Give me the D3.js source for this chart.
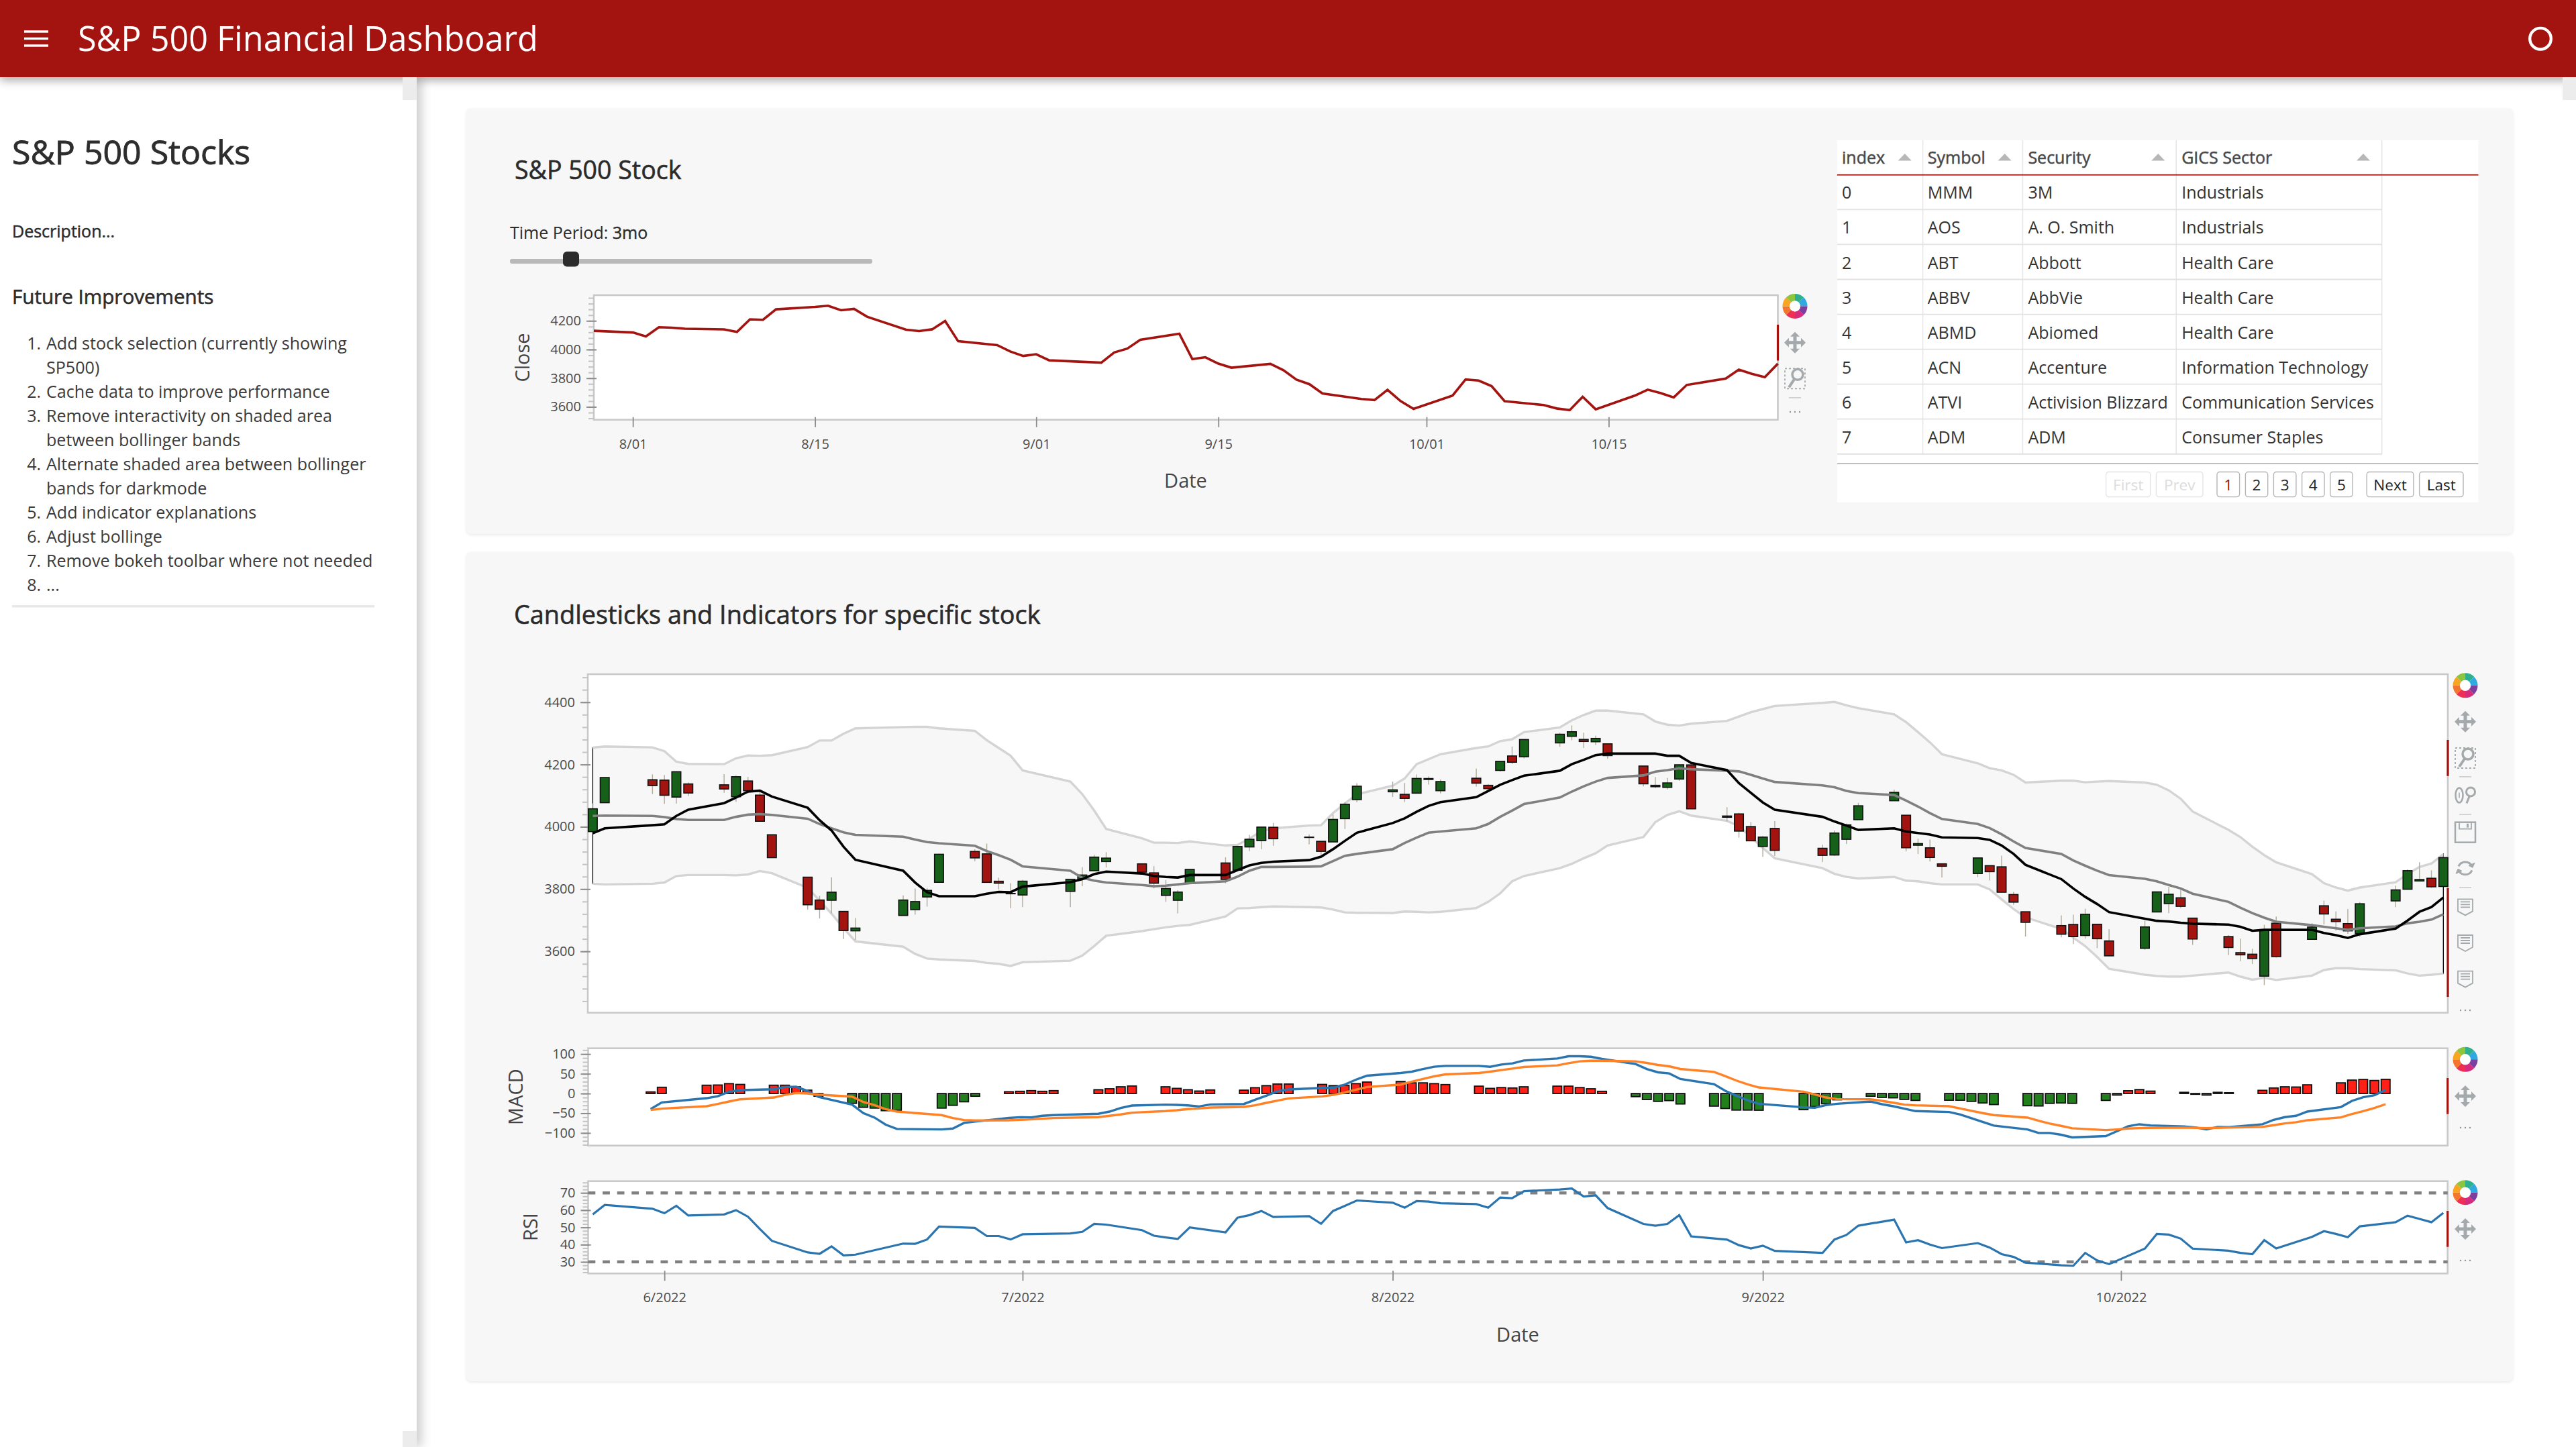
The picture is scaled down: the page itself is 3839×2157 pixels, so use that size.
<!DOCTYPE html>
<html><head><meta charset="utf-8">
<script src="https://cdn.jsdelivr.net/npm/d3@7"></script>
<style>
html,body{margin:0;padding:0;background:#fff;overflow:hidden}
svg{display:block;font-family:"Open Sans",sans-serif}
.soft{filter:blur(0.6px)}
</style></head><body>
<script>
// ---------- data ----------
const tradingDays = [
 "05-26","05-27","05-31",
 "06-01","06-02","06-03","06-06","06-07","06-08","06-09","06-10","06-13","06-14","06-15","06-16","06-17","06-21","06-22","06-23","06-24","06-27","06-28","06-29","06-30",
 "07-01","07-05","07-06","07-07","07-08","07-11","07-12","07-13","07-14","07-15","07-18","07-19","07-20","07-21","07-22","07-25","07-26","07-27","07-28","07-29",
 "08-01","08-02","08-03","08-04","08-05","08-08","08-09","08-10","08-11","08-12","08-15","08-16","08-17","08-18","08-19","08-22","08-23","08-24","08-25","08-26","08-29","08-30","08-31",
 "09-01","09-02","09-06","09-07","09-08","09-09","09-12","09-13","09-14","09-15","09-16","09-19","09-20","09-21","09-22","09-23","09-26","09-27","09-28","09-29","09-30",
 "10-03","10-04","10-05","10-06","10-07","10-10","10-11","10-12","10-13","10-14","10-17","10-18","10-19","10-20","10-21","10-24","10-25","10-26","10-27","10-28"];
const openPrice = [
 3984.6,4077.4,4151.1,
 4149.8,4095.4,4137.6,4134.7,4096.5,4147.1,4101.7,3974.4,3838.2,3764.8,3764.1,3728.2,3665.9,3715.3,3733.9,3774.7,3821.8,3920.8,3913,3825.1,3786,
 3781,3792.6,3832,3858.9,3888.3,3880.9,3852,3779.7,3764,3818,3883.8,3860.7,3935.3,3955.5,3998.4,3965.7,3953.2,3951.4,4026.1,4087.3,
 4112.4,4104.2,4108,4154.9,4115.9,4155.9,4133.1,4181,4227.4,4225,4269.4,4290.5,4280.5,4273.1,4266.3,4195.1,4133.1,4126.6,4153.3,4198.7,4034.6,4041.3,4000.7,
 3936.7,3994.7,3930.9,3909.4,3959.9,4022.9,4083.7,4037.1,3940.7,3932.4,3881,3849.9,3875.2,3871.4,3782.4,3727.1,3682.7,3686.4,3651,3687,3633.5,
 3609.8,3726.5,3753.3,3772,3706.7,3647.5,3595.9,3590.8,3520.4,3690.4,3638.7,3746.3,3703.1,3689.1,3657.1,3762,3799.4,3826,3834.7,3808.3];
const highPrice = [
 4075.1,4158.5,4168.3,
 4166.5,4177.5,4142.7,4168.8,4164.9,4160.1,4119.1,3974.4,3838.2,3778.2,3837.6,3728.2,3707.7,3779.7,3801.8,3802.6,3913.7,3927.7,3945.9,3836.5,3819,
 3829.8,3832.2,3870.9,3910.6,3918.5,3880.9,3873.4,3829.4,3796.4,3863.6,3902.4,3939.8,3974.1,3999.3,4012.4,3975.3,3953.2,4039.6,4079,4140.2,
 4145,4140.5,4167.7,4161.3,4151.6,4186.6,4137.3,4211,4257.9,4280.5,4301.8,4325.3,4302.2,4292.5,4266.3,4195.1,4159.8,4156.6,4200.5,4203,4063,4045,4015.4,
 3970.2,4018.4,3942.6,3987.9,4010.5,4076.8,4119.3,4037.1,3961.9,3959.1,3881,3900.5,3876,3907.1,3790.7,3727.1,3715.7,3717.5,3736.7,3687,3671.4,
 3698.4,3791.9,3806.9,3797.9,3706.7,3652.2,3640.7,3608.3,3685.4,3712,3689.7,3762.8,3728.6,3736,3757.9,3810.7,3862.9,3886.2,3860,3905.4];
const lowPrice = [
 3984.6,4077.4,4104.9,
 4073.9,4074.4,4098.7,4109.2,4080.2,4107.2,4017.2,3900.2,3734.3,3705.7,3722.3,3639.8,3636.9,3715.3,3717.7,3743.5,3821.8,3889.7,3820.1,3799,3738.7,
 3741.7,3742.1,3809.4,3858.9,3869.3,3847.2,3802.4,3759.1,3721.6,3817.2,3818.6,3860.7,3922,3927.6,3938.9,3943.5,3910.7,3951.4,3993,4079.2,
 4096,4079.8,4108,4135.4,4107.3,4129,4112.1,4177.3,4201.4,4219.8,4256.9,4277.8,4253.1,4262,4218.7,4129.9,4124,4120,4147.6,4057.7,4017.4,3965.2,3954.5,
 3903.7,3906.2,3886.8,3906,3944.8,4022.9,4083.7,3921,3912.2,3888.3,3837.1,3838.5,3827.5,3789.5,3749.5,3647.5,3644.8,3623.3,3640.6,3610.4,3584.1,
 3604.9,3726.5,3722.7,3739.2,3620.7,3588.1,3568.5,3559.3,3491.6,3579.7,3638.7,3686.5,3666.5,3656.4,3647.4,3741.7,3799.4,3824.1,3803.8,3808.3];
const closePrice = [
 4057.8,4158.2,4132.2,
 4101.2,4176.8,4108.5,4121.4,4160.7,4115.8,4017.8,3900.9,3749.6,3735.5,3790,3666.8,3674.8,3764.8,3759.9,3795.7,3911.7,3900.1,3821.6,3818.8,3785.4,
 3825.3,3831.4,3845.1,3902.6,3899.4,3854.4,3818.8,3801.8,3790.4,3863.2,3830.9,3936.7,3959.9,3999,3961.6,3966.8,3921.1,4023.6,4072.4,4130.3,
 4118.6,4091.2,4155.2,4151.9,4145.2,4140.1,4122.5,4210.2,4207.3,4280.2,4297.1,4305.2,4274,4283.7,4228.5,4138,4128.7,4140.8,4199.1,4057.7,4030.6,3986.2,3955,
 3966.9,3924.3,3908.2,3979.9,4006.2,4067.4,4110.4,3932.7,3946,3901.4,3873.3,3899.9,3855.9,3789.9,3758,3693.2,3655,3647.3,3719,3640.5,3585.6,
 3678.4,3790.9,3783.3,3744.5,3639.7,3612.4,3588.8,3577,3669.9,3583.1,3678,3720,3695.7,3665.8,3752.8,3797.3,3859.1,3830.6,3807.3,3901.1];
const bollUpper = [
 4254,4258,4255,
 4243,4209,4202,4201,4220,4229,4228,4230,4256,4277,4277,4299,4316,4320,4321,4321,4316,4308,4278,4253,4228,
 4181,4145,4105,4052,3993,3963,3949,3949,3948,3953,3940,3942,3962,3986,3995,4004,4005,4044,4075,4104,
 4132,4155,4201,4217,4233,4253,4258,4275,4281,4304,4319,4342,4359,4373,4373,4361,4338,4328,4325,4331,4340,4354,4368,
 4378,4388,4398,4401,4390,4381,4361,4336,4304,4271,4233,4204,4188,4181,4167,4142,4148,4148,4143,4145,4147,
 4142,4135,4117,4090,4049,3990,3967,3936,3909,3886,3848,3819,3805,3795,3805,3822,3848,3871,3882,3912];
const bollMiddle = [
 4035,4036,4035,
 4031,4025,4022,4022,4032,4039,4041,4038,4026,4009,3995,3982,3974,3968,3959,3951,3947,3939,3922,3909,3894,
 3873,3859,3836,3827,3821,3813,3809,3811,3815,3819,3825,3840,3859,3871,3871,3872,3873,3890,3907,3913,
 3928,3948,3965,3981,3985,3995,4009,4032,4052,4073,4094,4113,4130,4145,4157,4165,4177,4182,4188,4185,4180,4178,4167,
 4155,4144,4133,4127,4115,4108,4102,4084,4065,4044,4025,4009,3996,3976,3953,3932,3913,3892,3875,3859,3845,
 3833,3825,3813,3802,3785,3759,3740,3723,3708,3695,3684,3679,3674,3669,3674,3680,3690,3695,3702,3719];
const bollLower = [
 3817,3815,3817,
 3821,3842,3845,3845,3844,3847,3858,3851,3804,3763,3721,3675,3632,3615,3592,3577,3574,3569,3563,3560,3553,
 3565,3570,3586,3617,3650,3665,3671,3677,3682,3685,3712,3738,3739,3742,3744,3742,3741,3734,3725,3724,
 3723,3728,3727,3725,3727,3739,3759,3786,3825,3842,3867,3881,3899,3915,3940,3967,4015,4038,4050,4036,4019,4002,3967,
 3932,3899,3867,3849,3839,3834,3839,3827,3825,3819,3815,3815,3799,3767,3736,3709,3672,3644,3617,3582,3544,
 3525,3521,3519,3519,3522,3532,3519,3509,3515,3508,3522,3540,3546,3546,3543,3539,3529,3522,3525,3529];
const fastAverage = [
 3979,3995,4005,
 4008,4035,4055,4076,4094,4113,4116,4097,4061,4021,3988,3936,3894,3859,3821,3790,3777,3777,3785,3791,3790,
 3808,3822,3832,3848,3856,3850,3842,3839,3837,3845,3845,3861,3876,3884,3888,3893,3904,3928,3955,3981,
 4012,4027,4048,4067,4079,4095,4115,4135,4150,4164,4180,4201,4215,4230,4235,4235,4235,4228,4228,4205,4182,4140,4109,
 4078,4055,4032,4017,4004,3990,3995,3985,3980,3975,3966,3964,3958,3940,3913,3878,3832,3802,3775,3752,3726,
 3705,3698,3696,3692,3689,3686,3679,3666,3669,3669,3669,3659,3652,3643,3655,3673,3699,3727,3742,3773];
const macdLine = [
 -39.5,-22.6,-11.9,
 -6.8,4.5,8.5,10.7,16.4,17,6.8,-8.5,-28.2,-49.7,-61,-79,-89.8,-91,-88.7,-74.6,-71.2,-62,-60,-60.5,-56.5,
 -54.8,-51.4,-45.8,-36.7,-30.5,-28.2,-28.8,-30,-32.8,-27.7,-26.6,-15.8,-5.6,5.6,10.2,14,14,22.6,35,45.2,
 52,55.4,62,67.8,70,70,67.8,73.4,76.3,83.6,88.7,94.4,94.4,93.2,87.6,74.6,62,53.7,50.8,36.7,23.7,6.8,-5.6,
 -17,-26,-35,-36.2,-29.4,-26,-20.3,-27.1,-32.2,-38.4,-44.6,-46.9,-53.1,-62.7,-71.8,-81.4,-91,-100,-100,-104.5,-111.3,
 -107.9,-95.5,-83,-78,-80.8,-83.6,-85.9,-91,-84.7,-85.3,-78,-66.7,-59.9,-56.5,-45.8,-34.5,-18.6,-9.6,-4.5,9];
const signalLine = [
 -41.8,-38.4,-32.2,
 -26.6,-20.3,-14.7,-10.2,-3.4,1.1,0,-2.8,-7.9,-21.5,-29.4,-39.5,-45.8,-54.8,-62.1,-67.2,-68.4,-67.8,-66.7,-65.5,-63.8,
 -62.1,-59.9,-56.5,-53.1,-48.6,-44.6,-42.4,-39.5,-37.9,-35.6,-33.9,-29.9,-23.7,-18.1,-12.4,-7.3,-3.4,2.3,9.6,16.4,
 22.6,29.9,36.7,43.5,48.6,52,55.4,59.3,63.3,67.2,71.2,76.8,81.4,83,83,81.4,77.4,72.3,68.9,62.1,54.8,44.1,32.8,
 23.2,15.3,4.5,-2.3,-10.2,-14.1,-14.7,-18.6,-23.2,-28.2,-29.9,-32.2,-37.9,-44,-49.7,-54.8,-61,-68.9,-76.3,-81.9,-88.1,
 -92.7,-91,-88.7,-87.6,-87,-86.4,-87,-87.6,-87,-86.4,-84.7,-80.2,-75.7,-72.9,-67.8,-60.5,-52,-44.6,-36.7,-27.1];
const macdHist = [
 4,15.8,21,
 21.5,25,23,21,21,17,8.5,-7,-25,-35,-37,-43.5,-42.5,-37,-30,-21,-7,4.5,5.6,7.3,5.6,
 7.3,9.6,12,17,19,17,13,9.6,6.2,9,8.5,14.7,20,24,24,23,20,21,25,29,
 30.5,27,27,25,22.6,18.6,13,15,14,17,18.6,18.6,15,12,5.6,-8,-15.3,-20,-18,-26.5,-32,-38,-42,
 -42,-42.4,-41,-33,-26,-16,-7,-10,-11,-15,-17.5,-17,-17,-20,-24,-28,-31,-31.6,-25,-24,-25,
 -17.5,-4,7,10,6,3,-2,-4,3,2,8,14,17,16.4,22,27,34,35.6,33,36];
const rsiValues = [
 57.5,63,60.8,
 58.2,62.5,56.9,57.5,60,56.2,49,42.2,35.5,34.7,39,33.8,34.2,40.6,40.5,43,50.5,49.7,45,45,43,
 46,46.5,47.4,52,51.6,48.4,45.2,44.2,43.3,50,47.1,55.6,57.1,59.5,56,56.5,52.1,59.5,62.5,65.6,
 64.3,61.4,65.3,65,64,63.5,61.4,67.3,66.9,71,72,72.5,67.9,68.6,61.2,52,51,52,57.1,44.8,42.9,39.7,37.8,
 39.4,36.4,35.2,43,45.6,51,54.5,41.3,42.6,40,38,40.9,38.3,34.5,32.9,29.6,28,27.7,35.2,30.9,28.7,
 37.7,46.2,45.8,43.5,37.7,36.5,35.2,34.5,42.6,37.8,44.5,47.8,46.2,44.3,50.6,53,56.8,54.9,53,58.4];
const rsiBounds = [70,30];

const stockTickDates = ["08-01","08-15","09-01","09-15","10-01","10-15"];
const stockTickLabels = ["8/01","8/15","9/01","9/15","10/01","10/15"];
const monthTickDates = ["06-01","07-01","08-01","09-01","10-01"];
const monthTickLabels = ["6/2022","7/2022","8/2022","9/2022","10/2022"];
const stockYTicks = [3600,3800,4000,4200];
const mainYTicks = [3600,3800,4000,4200,4400];
const macdYTicks = [-100,-50,0,50,100];
const rsiYTicks = [30,40,50,60,70];

const tableHeaders = ["index","Symbol","Security","GICS Sector"];
const tableIndex = ["0","1","2","3","4","5","6","7"];
const tableSymbols = ["MMM","AOS","ABT","ABBV","ABMD","ACN","ATVI","ADM"];
const tableSecurities = ["3M","A. O. Smith","Abbott","AbbVie","Abiomed","Accenture","Activision Blizzard","ADM"];
const tableSectors = ["Industrials","Industrials","Health Care","Health Care","Health Care","Information Technology","Communication Services","Consumer Staples"];

const improvements = [
 ["1.","Add stock selection (currently showing"],["","SP500)"],
 ["2.","Cache data to improve performance"],
 ["3.","Remove interactivity on shaded area"],["","between bollinger bands"],
 ["4.","Alternate shaded area between bollinger"],["","bands for darkmode"],
 ["5.","Add indicator explanations"],["6.","Adjust bollinge"],
 ["7.","Remove bokeh toolbar where not needed"],["8.","..."]];

// ---------- helpers ----------
const RED="#a31410", TXT="#2b2b2b", AXT="#4a4a4a", BORDER="#c9c9c9", TICK="#8c8c8c", ICON="#a4a9ac";
const parse=s=>d3.utcParse("%Y-%m-%d")("2022-"+s);
const days=tradingDays.map(parse);
const svg=d3.select("body").append("svg").attr("width",3839).attr("height",2157);
const defs=svg.append("defs");
const blur=(id,s)=>defs.append("filter").attr("id",id).attr("x","-20%").attr("y","-20%").attr("width","140%").attr("height","140%").append("feGaussianBlur").attr("stdDeviation",s);
blur("sh8",8); blur("sh3",2.2);
defs.append("filter").attr("id","shH").attr("x","-1%").attr("y","-100%").attr("width","102%").attr("height","400%").append("feGaussianBlur").attr("stdDeviation",7);
function text(g,x,y,s,o={}){
  const t=g.append("text").attr("x",x).attr("y",y).text(s)
   .attr("font-size",o.size||25).attr("fill",o.fill||TXT).attr("font-weight",o.weight||400)
   .attr("text-anchor",o.anchor||"start");
  if(o.stroke)t.attr("stroke",o.fill||TXT).attr("stroke-width",o.stroke);
  if(o.rotate)t.attr("transform",`rotate(${o.rotate} ${x} ${y})`);
  return t;
}
function rect(g,x0,y0,x1,y1,fill,o={}){
  return g.append("rect").attr("x",x0).attr("y",y0).attr("width",x1-x0).attr("height",y1-y0).attr("fill",fill)
    .attr("rx",o.rx||0).attr("stroke",o.stroke||"none").attr("stroke-width",o.sw||0);
}
function plotFrame(g,x0,y0,x1,y1){
  rect(g,x0,y0,x1,y1,"#fff",{stroke:BORDER,sw:2.6});
}
function yAxis(g,scale,x0,majors,minors){
  const m=g.append("g").attr("transform",`translate(${x0},0)`)
    .call(d3.axisLeft(scale).tickValues(minors).tickSize(7).tickFormat(""));
  m.select(".domain").remove();
  m.selectAll(".tick line").attr("stroke","#c4c4c4").attr("stroke-width",2).attr("x2",-8).attr("x1",0);
  const a=g.append("g").attr("transform",`translate(${x0},0)`)
    .call(d3.axisLeft(scale).tickValues(majors).tickSize(11).tickPadding(8).tickFormat(d3.format("d")));
  a.select(".domain").remove();
  a.selectAll(".tick line").attr("stroke",TICK).attr("stroke-width",2).attr("x2",-11).attr("x1",4);
  a.selectAll(".tick text").attr("font-size",20).attr("font-family","'Open Sans',sans-serif").attr("fill",AXT);
}
function xAxis(g,scale,y0,dates,labels){
  const a=g.append("g").attr("transform",`translate(0,${y0})`)
    .call(d3.axisBottom(scale).tickValues(dates.map(parse)).tickSize(11).tickPadding(18)
      .tickFormat((d,i)=>labels[i]));
  a.select(".domain").remove();
  a.selectAll(".tick line").attr("stroke",TICK).attr("stroke-width",1.8).attr("y1",-4).attr("y2",11);
  a.selectAll(".tick text").attr("font-size",20).attr("font-family","'Open Sans',sans-serif").attr("fill",AXT);
}
function logo(g,cx,cy){
  const cols=["#2eaf8f","#2fa9e0","#7c3f9d","#d62a7c","#ee2f53","#f2762e","#f6a623","#8cc63f"];
  const c=g.append("g").attr("transform",`translate(${cx},${cy})`);
  c.selectAll("path").data(d3.pie().value(1).sort(null).padAngle(0)(cols)).join("path")
    .attr("d",d3.arc().innerRadius(8).outerRadius(18.5)).attr("fill",d=>d.data);
  c.append("circle").attr("r",8).attr("fill","#fff");
}
function iconMove(g,cx,cy){
  const c=g.append("g").attr("transform",`translate(${cx},${cy})`).attr("fill",ICON);
  c.append("rect").attr("x",-2.5).attr("y",-12).attr("width",5).attr("height",24);
  c.append("rect").attr("x",-12).attr("y",-2.5).attr("width",24).attr("height",5);
  c.append("path").attr("d","M-7,-9 L0,-16 L7,-9 Z M-7,9 L0,16 L7,9 Z M-9,-7 L-16,0 L-9,7 Z M9,-7 L16,0 L9,7 Z");
}
function iconBoxZoom(g,cx,cy){
  const c=g.append("g").attr("transform",`translate(${cx},${cy})`).attr("fill","none").attr("stroke",ICON);
  c.append("rect").attr("x",-15).attr("y",-15).attr("width",30).attr("height",30).attr("stroke-width",1.8).attr("stroke-dasharray","3 3");
  c.append("circle").attr("cx",4).attr("cy",-6).attr("r",8).attr("stroke-width",3.5);
  c.append("line").attr("x1",-1).attr("y1",1).attr("x2",-9).attr("y2",13).attr("stroke-width",4);
}
function iconWheel(g,cx,cy){
  const c=g.append("g").attr("transform",`translate(${cx},${cy})`).attr("fill","none").attr("stroke",ICON);
  c.append("ellipse").attr("cx",-9).attr("cy",0).attr("rx",5.5).attr("ry",11).attr("stroke-width",2.5);
  c.append("line").attr("x1",-9).attr("y1",-4).attr("x2",-9).attr("y2",4).attr("stroke-width",1.5);
  c.append("circle").attr("cx",8).attr("cy",-5).attr("r",6.5).attr("stroke-width",3);
  c.append("line").attr("x1",6).attr("y1",2).attr("x2",2).attr("y2",12).attr("stroke-width",3);
}
function iconSave(g,cx,cy){
  const c=g.append("g").attr("transform",`translate(${cx},${cy})`).attr("fill","none").attr("stroke",ICON).attr("stroke-width",2.5);
  c.append("rect").attr("x",-15).attr("y",-15).attr("width",30).attr("height",30);
  c.append("path").attr("d","M-9,-15 V-5 H9 V-15").attr("stroke-width",1.8);
  c.append("rect").attr("x",2).attr("y",-13).attr("width",3).attr("height",6).attr("fill",ICON).attr("stroke","none");
}
function iconReset(g,cx,cy){
  const c=g.append("g").attr("transform",`translate(${cx},${cy})`).attr("fill","none").attr("stroke",ICON).attr("stroke-width",3);
  c.append("path").attr("d","M-10,-3 A11,11 0 0 1 10,-3");
  c.append("path").attr("d","M10,3 A11,11 0 0 1 -10,3");
  c.append("path").attr("d","M5,-4 L11,-1 L14,-8 Z M-5,4 L-11,1 L-14,8 Z").attr("fill",ICON).attr("stroke-width",1);
}
function iconHover(g,cx,cy){
  const c=g.append("g").attr("transform",`translate(${cx},${cy})`).attr("fill","none").attr("stroke",ICON).attr("stroke-width",1.8);
  c.append("path").attr("d","M-11,-11 H11 V7 L0,13 L-11,7 Z");
  c.append("path").attr("d","M-7,-7 H7 M-7,-3 H7 M-7,1 H7").attr("stroke-width",1.8);
}
function iconDivider(g,cx,cy){ g.append("rect").attr("x",cx-9).attr("y",cy-0.8).attr("width",18).attr("height",1.6).attr("fill","#c9cdcf"); }
function iconDots(g,cx,cy){ [-7,0,7].forEach(d=>g.append("circle").attr("cx",cx+d).attr("cy",cy).attr("r",1.2).attr("fill","#8f9497")); }
function activeBar(g,x,y0,y1){ rect(g,x-1.6,y0,x+1.6,y1,RED); }

// ---------- page frame ----------
rect(svg,0,0,3839,2157,"#fff");
const card=(y0,y1)=>{
  svg.append("rect").attr("x",695).attr("y",y0+1.5).attr("width",3050).attr("height",y1-y0).attr("rx",7).attr("fill","#000").attr("opacity",.09).attr("filter","url(#sh3)");
  rect(svg,695,y0,3745,y1,"#f7f7f7",{rx:7});
};
card(161.5,796); card(823,2059);

// sidebar
svg.append("rect").attr("x",0).attr("y",115).attr("width",628).attr("height",2042).attr("fill","#000").attr("opacity",.2).attr("filter","url(#sh8)");
rect(svg,0,115,621,2157,"#fff");

// header shadow and corner squares
svg.append("rect").attr("x",0).attr("y",104).attr("width",3839).attr("height",16).attr("fill","#000").attr("opacity",.33).attr("filter","url(#shH)");
rect(svg,600,115,621,149,"#ececec");
rect(svg,600,2133,621,2157,"#ececec");
rect(svg,3819,115,3839,149,"#ececec");

const side=svg.append("g");
text(side,18,245,"S&P 500 Stocks",{size:50,weight:500,fill:"#2d2d2d",stroke:.9});
text(side,18,354,"Description...",{size:25,weight:500,fill:"#2d2d2d",stroke:.5});
text(side,18,453,"Future Improvements",{size:29.6,weight:500,fill:"#2d2d2d",stroke:.6});
improvements.forEach((r,i)=>{
  const y=520.5+36*i;
  if(r[0]) text(side,61,y,r[0],{size:25,anchor:"end",fill:"#3a3a3a"});
  text(side,69,y,r[1],{size:25.1,fill:"#3a3a3a"});
});
rect(side,18,902,558,905.5,"#e8e8e8");

// header
rect(svg,0,0,3839,115,RED);
[47,57.5,68].forEach(y=>rect(svg,36,y-1.7,72,y+1.7,"#fff"));
text(svg,116,76,"S&P 500 Financial Dashboard",{size:50.35,fill:"#fff"});
svg.append("circle").attr("cx",3786).attr("cy",57.7).attr("r",15.8).attr("fill","none").attr("stroke","#fff").attr("stroke-width",4.3);

// ---------- top card ----------
const topCard=svg.append("g");
text(topCard,767,267,"S&P 500 Stock",{size:37.5,weight:500,stroke:.6});
text(topCard,760,356,"Time Period: ",{size:25}).append("tspan").attr("font-weight",500).attr("stroke",TXT).attr("stroke-width",.4).text("3mo");
rect(topCard,760,386,1300,393,"#b9b9b9",{rx:3});
rect(topCard,839,375,863,397.5,"#2c2c2c",{rx:6});

const stockIdx=d3.range(days.length).filter(i=>tradingDays[i]>="07-29");
const xStock=d3.scaleUtc().domain([parse("07-29"),parse("10-28")]).range([885,2649.5]);
const yStock=d3.scaleLinear().domain([3510,4379]).range([625.7,440]);
plotFrame(topCard,885,440,2649.5,625.7);
yAxis(topCard,yStock,885,stockYTicks,d3.range(3520,4379,40));
xAxis(topCard,xStock,625.7,stockTickDates,stockTickLabels);
topCard.append("path").attr("class","soft").attr("fill","none").attr("stroke",RED).attr("stroke-width",3.6).attr("stroke-linejoin","miter")
  .attr("d",d3.line().x(i=>xStock(days[i])).y(i=>yStock(closePrice[i]))(stockIdx));
text(topCard,789,533,"Close",{size:29,anchor:"middle",rotate:-90,fill:"#444"});
text(topCard,1767,727,"Date",{size:29,anchor:"middle",fill:"#444"});
activeBar(topCard,2649.5,484,537.5);
logo(topCard,2675,456.4); iconMove(topCard,2675,510.7); iconBoxZoom(topCard,2675,564.3); iconDivider(topCard,2675,592.9); iconDots(topCard,2675,614);

// ---------- table ----------
const tb=svg.append("g");
rect(tb,2738,209,3693.5,749,"#fff");
const colEdges=[2738,2865.6,3014.5,3243.2,3549.7];
const colText=[2745,2872.8,3022.4,3251.2];
const sortX=[2838.7,2987.6,3216.3,3522];
colEdges.slice(1).forEach(x=>tb.append("line").attr("x1",x).attr("x2",x).attr("y1",209).attr("y2",677.5).attr("stroke","#e4e4e4").attr("stroke-width",1.4));
tableHeaders.forEach((h,i)=>{
  text(tb,colText[i],243.5,h,{size:25,weight:500,fill:"#484848",stroke:.5});
  tb.append("path").attr("d",`M${sortX[i]-10},239.5 L${sortX[i]},229 L${sortX[i]+10},239.5 Z`).attr("fill","#b7b7b7");
});
rect(tb,2738,259.8,3693.5,261.6,RED);
tableIndex.forEach((_,r)=>{
  const yb=296.4+52.05*r, yl=312.4+52.05*r;
  [tableIndex[r],tableSymbols[r],tableSecurities[r],tableSectors[r]].forEach((s,c)=>text(tb,colText[c],yb,s,{size:25,fill:"#333"}));
  tb.append("line").attr("x1",2738).attr("x2",3549.7).attr("y1",yl).attr("y2",yl).attr("stroke","#e2e2e2").attr("stroke-width",1.8);
});
rect(tb,2738,690.5,3693.5,692,"#a6a6a6");
const pager=[["First",3138.6,3204.7,0],["Prev",3213.4,3283,0],["1",3304,3337.6,2],["2",3346.4,3379.7,1],["3",3388.4,3421.9,1],["4",3430.6,3464,1],["5",3472.7,3506,1],["Next",3527.2,3596.9,1],["Last",3605.6,3671,1]];
pager.forEach(p=>{
  rect(tb,p[1],703.5,p[2],740.6,"#fff",{rx:4,stroke:p[3]?"#b5b5b5":"#e4e4e4",sw:1.4});
  text(tb,(p[1]+p[2])/2,730.5,p[0],{size:22.5,anchor:"middle",fill:p[3]==0?"#dcdcdc":p[3]==2?RED:"#222"});
});

// ---------- candle card ----------
const cc=svg.append("g");
text(cc,766,929.5,"Candlesticks and Indicators for specific stock",{size:37.85,weight:500,stroke:.6});
const xMain=d3.scaleUtc().domain([d3.utcHour.offset(days[0],-9.4),d3.utcHour.offset(days[days.length-1],9)]).range([876,3648]);
const yMain=d3.scaleLinear().domain([3403,4490]).range([1509.6,1005]);
plotFrame(cc,876,1005,3648,1509.6);
yAxis(cc,yMain,876,mainYTicks,d3.range(3440,4490,40));
const marks=cc.append("g").attr("class","soft");
marks.append("path").attr("fill","#f7f7f7").attr("stroke","#000").attr("stroke-width",1.3)
  .attr("d",d3.area().x((_,i)=>xMain(days[i])).y0((_,i)=>yMain(bollLower[i])).y1(d=>yMain(d))(bollUpper));
const lineMain=d3.line().x((_,i)=>xMain(days[i])).y(d=>yMain(d));
[bollUpper,bollLower].forEach(s=>marks.append("path").attr("fill","none").attr("stroke","#d4d4d4").attr("stroke-width",3.4).attr("d",lineMain(s)));
marks.selectAll(".wick").data(days).join("line").attr("class","wick")
  .attr("x1",d=>xMain(d)).attr("x2",d=>xMain(d))
  .attr("y1",(_,i)=>yMain(highPrice[i])).attr("y2",(_,i)=>yMain(lowPrice[i]))
  .attr("stroke","#b3ab9b").attr("stroke-width",1.4);
marks.selectAll(".body").data(days).join("rect").attr("class","body")
  .attr("x",d=>xMain(d)-6.7).attr("width",13.4)
  .attr("y",(_,i)=>yMain(Math.max(openPrice[i],closePrice[i])))
  .attr("height",(_,i)=>Math.max(0.5,Math.abs(yMain(openPrice[i])-yMain(closePrice[i]))))
  .attr("fill",(_,i)=>closePrice[i]>=openPrice[i]?"#16601a":RED)
  .attr("stroke","#111").attr("stroke-width",1.6);
marks.append("path").attr("fill","none").attr("stroke","#808080").attr("stroke-width",3.6).attr("d",lineMain(bollMiddle));
marks.append("path").attr("fill","none").attr("stroke","#000").attr("stroke-width",3.6).attr("d",lineMain(fastAverage));
activeBar(cc,3648,1103,1156.8); activeBar(cc,3648,1324,1486);
logo(cc,3674,1021.8); iconMove(cc,3674,1075.7); iconBoxZoom(cc,3674,1130); iconDivider(cc,3674,1157.9);
iconWheel(cc,3674,1185.4); iconDivider(cc,3674,1214); iconSave(cc,3674,1240.7); iconReset(cc,3674,1294.3); iconDivider(cc,3674,1323);
iconHover(cc,3674,1351.4); iconHover(cc,3674,1405); iconHover(cc,3674,1458.6); iconDots(cc,3674,1506);

// ---------- MACD ----------
const xMacd=d3.scaleUtc().domain([d3.utcHour.offset(days[0],-134),d3.utcHour.offset(days[days.length-1],133)]).range([876.5,3647.7]);
const yMacd=d3.scaleLinear().domain([-132,114.5]).range([1707.7,1562.7]);
plotFrame(cc,876.5,1562.7,3647.7,1707.7);
yAxis(cc,yMacd,876.5,macdYTicks,d3.range(-130,115,10));
const mm=cc.append("g").attr("class","soft");
mm.selectAll(".hist").data(macdHist).join("rect").attr("class","hist")
  .attr("x",(_,i)=>xMacd(days[i])-6.6).attr("width",13.2)
  .attr("y",d=>yMacd(Math.max(d,0))).attr("height",d=>Math.abs(yMacd(d)-yMacd(0)))
  .attr("fill",d=>d>0?"#ff2117":"#22801c").attr("stroke","#111").attr("stroke-width",1.8);
const lineMacd=d3.line().x((_,i)=>xMacd(days[i])).y(d=>yMacd(d));
mm.append("path").attr("fill","none").attr("stroke","#2a75b0").attr("stroke-width",3.4).attr("d",lineMacd(macdLine));
mm.append("path").attr("fill","none").attr("stroke","#ff8326").attr("stroke-width",3.4).attr("d",lineMacd(signalLine));
text(cc,779,1635,"MACD",{size:29,anchor:"middle",rotate:-90,fill:"#444"});
activeBar(cc,3647.7,1607,1660.7);
logo(cc,3674,1579.3); iconMove(cc,3674,1634); iconDots(cc,3674,1681);

// ---------- RSI ----------
const yRsi=d3.scaleLinear().domain([23.3,76.8]).range([1898.3,1760.7]);
plotFrame(cc,876.5,1760.7,3647.7,1898.3);
yAxis(cc,yRsi,876.5,rsiYTicks,d3.range(24,77,2));
xAxis(cc,xMain,1898.3,monthTickDates,monthTickLabels);
const rr=cc.append("g").attr("class","soft");
rsiBounds.forEach(v=>rr.append("line").attr("x1",876.5).attr("x2",3647.7).attr("y1",yRsi(v)).attr("y2",yRsi(v))
  .attr("stroke","#808080").attr("stroke-width",4.4).attr("stroke-dasharray","10.8 10.8"));
rr.append("path").attr("fill","none").attr("stroke","#2a75b0").attr("stroke-width",3.2)
  .attr("d",d3.line().x((_,i)=>xMain(days[i])).y(d=>yRsi(d))(rsiValues));
text(cc,801,1829,"RSI",{size:29,anchor:"middle",rotate:-90,fill:"#444"});
text(cc,2262,2000,"Date",{size:29,anchor:"middle",fill:"#444"});
activeBar(cc,3647.7,1805,1858.7);
logo(cc,3674,1777.7); iconMove(cc,3674,1832); iconDots(cc,3674,1879);
</script>
</body></html>
